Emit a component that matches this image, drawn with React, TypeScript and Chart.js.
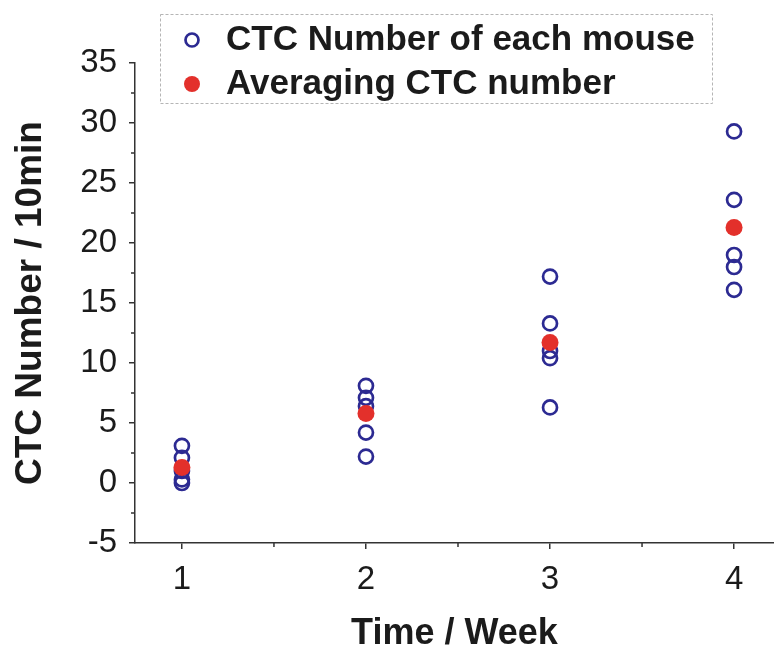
import React, { useEffect, useRef } from "react";
import { Chart, registerables } from "chart.js";

Chart.register(...registerables);

const weeks = [1, 2, 3, 4];
const week1Mice = [3.1, 2.1, 1.0, 0.3, 0.0];
const week2Mice = [8.1, 7.1, 6.4, 4.2, 2.2];
const week3Mice = [17.2, 13.3, 11.0, 10.4, 6.3];
const week4Mice = [29.3, 23.6, 19.0, 18.0, 16.1];
const averages = [1.3, 5.8, 11.7, 21.3];
const yTicks = [-5, 0, 5, 10, 15, 20, 25, 30, 35];
const seriesNames = ["CTC Number of each mouse", "Averaging CTC number"];

const BLUE = "#2c2a92";
const RED = "#e3302b";
const AXIS = "#333333";
const TEXT = "#1b1b1b";
const FONT = "'Liberation Sans', Arial, Helvetica, sans-serif";

const minorTicks = {
  id: "minorTicks",
  afterDraw(chart: any) {
    const { ctx, chartArea } = chart;
    const xs = chart.scales.x;
    const ys = chart.scales.y;
    ctx.save();
    ctx.strokeStyle = AXIS;
    ctx.lineWidth = 1.5;
    ctx.beginPath();
    for (let v = -2.5; v < 35; v += 5) {
      const y = ys.getPixelForValue(v);
      ctx.moveTo(chartArea.left - 4, y);
      ctx.lineTo(chartArea.left, y);
    }
    for (let v = 1.5; v < 4.2; v += 1) {
      const x = xs.getPixelForValue(v);
      ctx.moveTo(x, chartArea.bottom);
      ctx.lineTo(x, chartArea.bottom + 4);
    }
    ctx.stroke();
    ctx.restore();
  },
};

const legendBox = {
  id: "legendBox",
  afterDraw(chart: any) {
    const { ctx } = chart;
    ctx.save();
    ctx.fillStyle = "#ffffff";
    ctx.fillRect(160, 14, 552, 89);
    ctx.setLineDash([3, 2]);
    ctx.strokeStyle = "#b5b5b5";
    ctx.lineWidth = 1;
    ctx.strokeRect(160.5, 14.5, 552, 89);
    ctx.setLineDash([]);
    ctx.beginPath();
    ctx.arc(192, 40, 6.5, 0, Math.PI * 2);
    ctx.strokeStyle = BLUE;
    ctx.lineWidth = 2.7;
    ctx.stroke();
    ctx.beginPath();
    ctx.arc(192, 84, 8, 0, Math.PI * 2);
    ctx.fillStyle = RED;
    ctx.fill();
    ctx.fillStyle = TEXT;
    ctx.font = `bold 35px ${FONT}`;
    ctx.textBaseline = "middle";
    ctx.textAlign = "left";
    ctx.fillText(seriesNames[0], 226, 40);
    ctx.fillText(seriesNames[1], 226, 84);
    ctx.restore();
  },
};

export default function App() {
  const ref = useRef<HTMLCanvasElement>(null);

  useEffect(() => {
    if (!ref.current) return;
    const mice = [week1Mice, week2Mice, week3Mice, week4Mice];
    const miceData: { x: number; y: number }[] = [];
    mice.forEach((arr, i) => arr.forEach((v) => miceData.push({ x: weeks[i], y: v })));
    const avgData = averages.map((v, i) => ({ x: weeks[i], y: v }));

    const chart = new Chart(ref.current, {
      type: "scatter",
      data: {
        datasets: [
          {
            label: seriesNames[1],
            data: avgData,
            pointRadius: 8.5,
            pointBackgroundColor: RED,
            pointBorderColor: RED,
            pointBorderWidth: 0,
            order: 0,
          },
          {
            label: seriesNames[0],
            data: miceData,
            pointRadius: 7,
            pointBackgroundColor: "rgba(0,0,0,0)",
            pointBorderColor: BLUE,
            pointBorderWidth: 2.7,
            order: 1,
          },
        ],
      },
      options: {
        responsive: false,
        animation: false,
        layout: { autoPadding: false, padding: { top: 63, right: 0, left: 0, bottom: 0 } },
        plugins: {
          legend: { display: false },
          tooltip: { enabled: false },
        },
        scales: {
          x: {
            type: "linear",
            min: 0.745,
            max: 4.217,
            afterBuildTicks: (scale: any) => {
              scale.ticks = weeks.map((v) => ({ value: v }));
            },
            afterFit: (scale: any) => {
              scale.height = 105;
              scale.paddingRight = 0;
              scale.paddingLeft = 0;
            },
            grid: {
              drawOnChartArea: false,
              drawTicks: true,
              tickLength: 6,
              color: AXIS,
              lineWidth: 1.5,
            },
            border: { display: true, color: AXIS, width: 1.5 },
            ticks: {
              color: TEXT,
              font: { family: FONT, size: 33 },
              padding: 11,
              callback: (v: any) => String(v),
            },
            title: {
              display: true,
              text: "Time / Week",
              color: TEXT,
              font: { family: FONT, size: 36, weight: "bold", lineHeight: 0.8 },
              padding: { top: 0, bottom: 0 },
            },
          },
          y: {
            type: "linear",
            min: -5,
            max: 35,
            afterBuildTicks: (scale: any) => {
              scale.ticks = yTicks.map((v) => ({ value: v }));
            },
            afterFit: (scale: any) => {
              scale.width = 135;
            },
            grid: {
              drawOnChartArea: false,
              drawTicks: true,
              tickLength: 6,
              color: AXIS,
              lineWidth: 1.5,
            },
            border: { display: true, color: AXIS, width: 1.5 },
            ticks: {
              color: TEXT,
              font: { family: FONT, size: 33 },
              padding: 12,
              callback: (v: any) => String(v),
            },
            title: {
              display: true,
              text: "CTC Number / 10min",
              color: TEXT,
              font: { family: FONT, size: 37, weight: "bold", lineHeight: 1 },
              padding: { top: 12, bottom: 0 },
            },
          },
        },
      },
      plugins: [minorTicks, legendBox],
    });
    return () => chart.destroy();
  }, []);

  return (
    <div style={{ position: "fixed", left: 0, top: 0, width: 774, height: 648, background: "#fff" }}>
      <canvas ref={ref} width={774} height={648} />
    </div>
  );
}
